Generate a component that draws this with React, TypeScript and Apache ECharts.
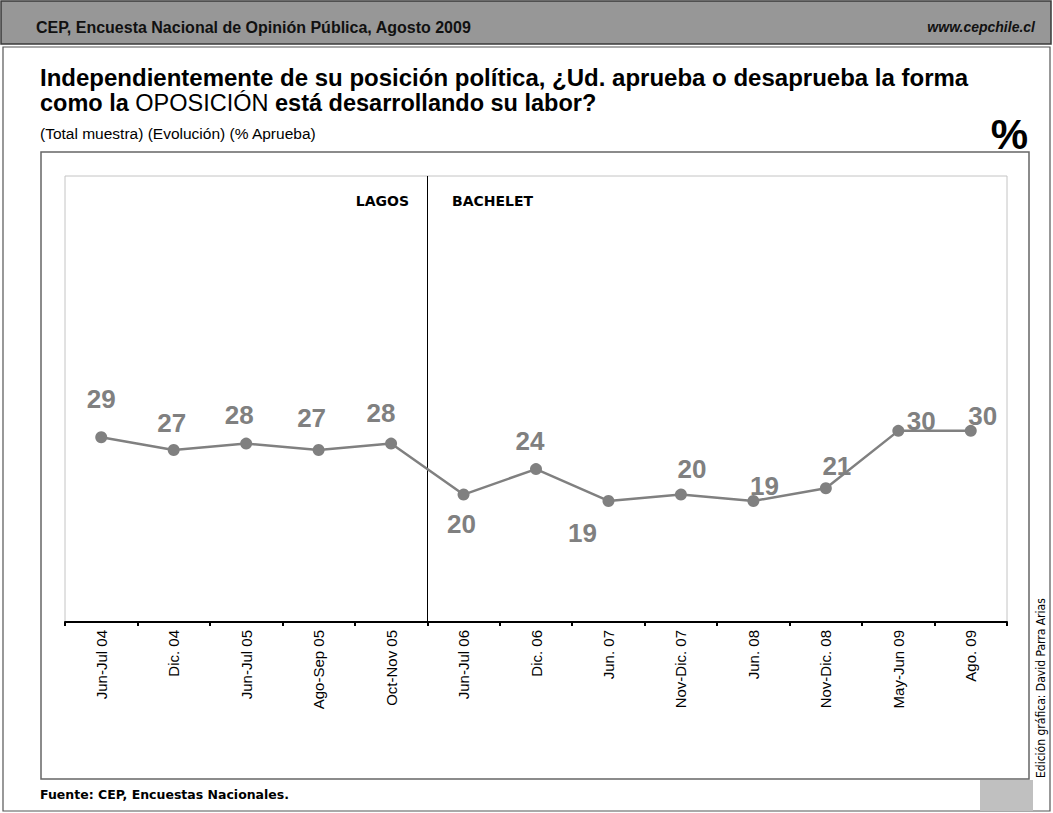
import React, { useEffect, useRef } from "react";
import * as echarts from "echarts";

const categories = [
  "Jun-Jul 04", "Dic. 04", "Jun-Jul 05", "Ago-Sep 05", "Oct-Nov 05",
  "Jun-Jul 06", "Dic. 06", "Jun. 07", "Nov-Dic. 07", "Jun. 08",
  "Nov-Dic. 08", "May-Jun 09", "Ago. 09",
];
const approve = [29, 27, 28, 27, 28, 20, 24, 19, 20, 19, 21, 30, 30];
const labelOffsets: [number, number][] = [
  [0, -38], [-2, -27], [-7, -29], [-7, -32], [-10, -31], [-2, 29], [-6, -28],
  [-26, 32], [11, -26], [11, -15], [11, -22], [23, -10], [12, -15],
];
const periodLabels = ["LAGOS", "BACHELET"];
const periodSplitIndex = 5;

export default function App() {
  const ref = useRef<HTMLDivElement>(null);
  useEffect(() => {
    if (!ref.current) return;
    const chart = echarts.init(ref.current, null, { renderer: "svg" });
    const F = "Arial, 'Liberation Sans', sans-serif";
    chart.setOption({
      animation: false,
      backgroundColor: "#ffffff",
      grid: {
        left: 65, right: 46, top: 176, bottom: 191,
        show: true, borderColor: "#c4c4c4", borderWidth: 1,
      },
      xAxis: {
        type: "category",
        data: categories,
        boundaryGap: true,
        axisLine: { lineStyle: { color: "#000", width: 2 } },
        axisTick: { show: true, length: 4, lineStyle: { color: "#000", width: 2 } },
        axisLabel: { rotate: 90, color: "#000", fontSize: 15, fontFamily: F, margin: 8, interval: 0 },
        splitLine: { show: false },
      },
      yAxis: { type: "value", min: 0, max: 70, show: false, splitLine: { show: false } },
      series: [
        {
          type: "line",
          data: approve.map((v, i) => ({
            value: v,
            label: { offset: labelOffsets[i] },
          })),
          symbol: "circle",
          symbolSize: 12,
          lineStyle: { color: "#808080", width: 2.5 },
          itemStyle: { color: "#808080" },
          label: {
            show: true,
            position: "inside",
            align: "center",
            verticalAlign: "middle",
            color: "#808080",
            fontSize: 26,
            fontWeight: "bold",
            fontFamily: F,
          },
        },
      ],
      graphic: [
        { type: "rect", shape: { x: 1, y: 1, width: 1050, height: 43 }, style: { fill: "#979797", stroke: "#3a3a3a", lineWidth: 1.5 }, silent: true },
        { type: "rect", shape: { x: 3, y: 47, width: 1047, height: 764 }, style: { fill: "none", stroke: "#555", lineWidth: 1.2 }, silent: true },
        { type: "text", x: 36, y: 27, style: { text: "CEP, Encuesta Nacional de Opinión Pública, Agosto 2009", fill: "#111", font: `bold 16px ${F}`, verticalAlign: "middle" } },
        { type: "text", x: 1035, y: 27, style: { text: "www.cepchile.cl", fill: "#111", font: `italic bold 14px ${F}`, align: "right", verticalAlign: "middle" } },
        { type: "text", x: 40, y: 77, style: { text: "Independientemente de su posición política, ¿Ud. aprueba o desaprueba la forma", fill: "#000", font: `bold 24px ${F}`, verticalAlign: "middle" } },
        {
          type: "text", x: 40, y: 103,
          style: {
            text: "{b|como la }{n|OPOSICIÓN}{b| está desarrollando su labor?}",
            verticalAlign: "middle",
            rich: {
              b: { font: `bold 23.5px ${F}`, fill: "#000" },
              n: { font: `23.5px ${F}`, fill: "#000" },
            },
          },
        },
        { type: "text", x: 40, y: 133, style: { text: "(Total muestra) (Evolución) (% Aprueba)", fill: "#000", font: `15.5px ${F}`, verticalAlign: "middle" } },
        { type: "text", x: 1028, y: 134, style: { text: "%", fill: "#000", font: `bold 42px ${F}`, align: "right", verticalAlign: "middle" } },
        { type: "rect", shape: { x: 41, y: 152, width: 988, height: 627 }, style: { fill: "none", stroke: "#666", lineWidth: 1.5 }, silent: true },
        { type: "text", x: 409, y: 201, style: { text: periodLabels[0], fill: "#000", font: `bold 14px 'DejaVu Sans', sans-serif`, align: "right", verticalAlign: "middle" } },
        { type: "text", x: 452, y: 201, style: { text: periodLabels[1], fill: "#000", font: `bold 14px 'DejaVu Sans', sans-serif`, align: "left", verticalAlign: "middle" } },
        { type: "text", x: 40, y: 794, style: { text: "Fuente: CEP, Encuestas Nacionales.", fill: "#000", font: `bold 12.5px 'DejaVu Sans', sans-serif`, verticalAlign: "middle" } },
        { type: "rect", shape: { x: 980, y: 780, width: 53, height: 31 }, style: { fill: "#c0c0c0" }, silent: true },
        { type: "text", x: 1041, y: 778, rotation: Math.PI / 2, style: { text: "Edición gráfica: David Parra Arias", fill: "#000", font: `12px 'DejaVu Sans Condensed', 'DejaVu Sans', sans-serif`, align: "left", verticalAlign: "middle" } },
      ],
    });
    const xa = chart.convertToPixel({ xAxisIndex: 0 }, periodSplitIndex - 1) as number;
    const xb = chart.convertToPixel({ xAxisIndex: 0 }, periodSplitIndex) as number;
    const xs = Math.round((xa + xb) / 2) + 0.5;
    chart.setOption({
      graphic: [
        { type: "line", id: "divider", shape: { x1: xs, y1: 176, x2: xs, y2: 621 }, style: { stroke: "#000", lineWidth: 1 }, silent: true },
      ],
    });
    return () => chart.dispose();
  }, []);
  return (
    <div
      ref={ref}
      style={{ position: "fixed", left: 0, top: 0, width: 1053, height: 813 }}
    />
  );
}
